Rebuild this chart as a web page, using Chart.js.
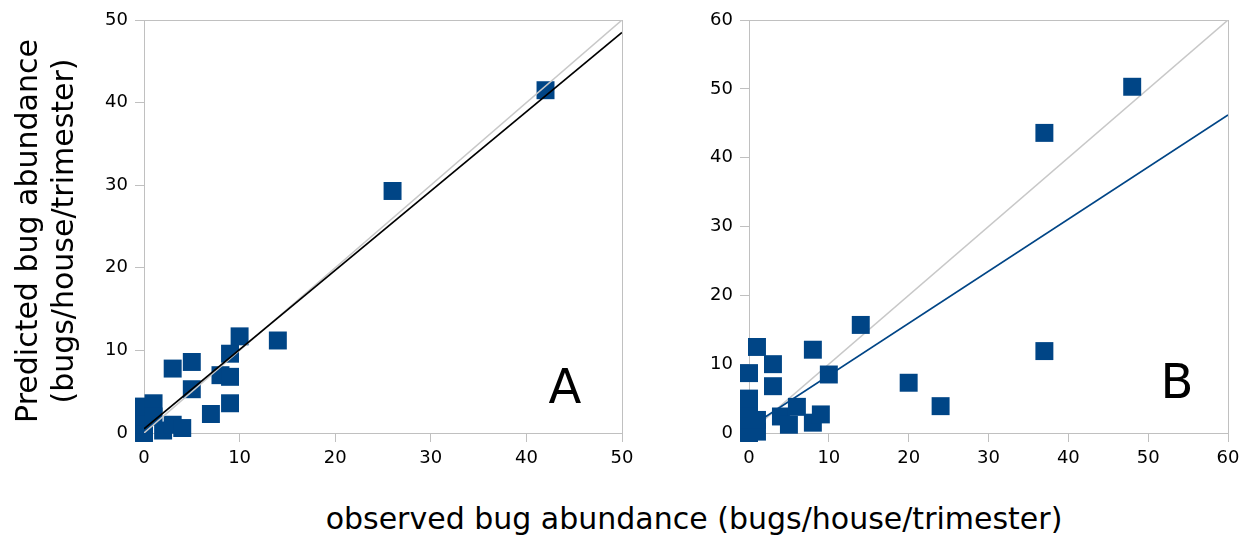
<!DOCTYPE html>
<html>
<head>
<meta charset="utf-8">
<script src="https://cdn.jsdelivr.net/npm/chart.js@4/dist/chart.umd.min.js"></script>
<style>
  html, body { margin: 0; padding: 0; background: #fff; }
  body { width: 1256px; height: 539px; position: relative; overflow: hidden; font-family: "DejaVu Sans", sans-serif; }
  #wrapA { left: 80px; width: 570px; height: 480px; position: absolute; top: 0; }
  #wrapB { left: 690px; width: 566px; height: 480px; position: absolute; top: 0; }
  .panel { position: absolute; font-size: 48px; line-height: 56px; color: #000; transform: translate(-50%, -50%); }
  #ytitle { position: absolute; width: 440px; left: -175px; top: 195px; height: 72px; font-size: 30px; line-height: 36px;
            text-align: center; transform: rotate(-90deg); transform-origin: 50% 50%; color: #000; white-space: nowrap; }
  #xtitle { position: absolute; left: 0; width: 1388px; top: 501px; font-size: 30px; line-height: 36px; text-align: center; color: #000; white-space: nowrap; }
</style>
</head>
<body>
<div id="wrapA"><canvas id="chartA"></canvas></div>
<div id="wrapB"><canvas id="chartB"></canvas></div>
<div id="ytitle">Predicted bug abundance<br>(bugs/house/trimester)</div>
<div id="xtitle">observed bug abundance (bugs/house/trimester)</div>
<div class="panel" style="left:565px; top:386px;">A</div>
<div class="panel" style="left:1177px; top:381px;">B</div>
<script>
// ---- Panel A data ----
const obsA  = [0, 0, 0, 0, 0, 1, 1, 2, 3, 4, 3, 5, 5, 7, 8, 9, 9, 9, 10, 14, 26, 42];
const predA = [0, 0.2, 1.0, 2.0, 3.2, 3.6, 2.0, 0.3, 1.0, 0.6, 7.8, 8.6, 5.3, 2.3, 7.0, 6.8, 9.6, 3.6, 11.7, 11.2, 29.3, 41.5];
const fitA_x = [0, 50];
const fitA_y = [0.5, 48.5];
const idA = [0, 50];
const ticksA = [0, 10, 20, 30, 40, 50];

// ---- Panel B data ----
const obsB  = [0, 0, 0, 0, 0, 0, 1, 1, 1, 3, 3, 4, 5, 6, 8, 8, 9, 10, 14, 20, 24, 37, 37, 48];
const predB = [0, 0.5, 2.0, 3.5, 5.0, 8.7, 0.2, 1.9, 12.5, 10.0, 6.8, 2.4, 1.2, 3.8, 1.5, 12.1, 2.7, 8.5, 15.7, 7.3, 3.9, 11.9, 43.6, 50.3];
const fitB_x = [0, 60];
const fitB_y = [0.8, 46.2];
const idB = [0, 60];
const ticksB = [0, 10, 20, 30, 40, 50, 60];

const MARK = '#004586';
const GRAY = '#c8c8c8';
const AXIS = '#c0c0c0';
const FONT = { family: 'DejaVu Sans', size: 18 };

const pts = (xs, ys) => xs.map((x, i) => ({ x: x, y: ys[i] }));

const frame = {
  id: 'frame',
  beforeDatasetsDraw(chart) {
    const a = chart.chartArea, c = chart.ctx;
    c.save();
    c.strokeStyle = AXIS; c.lineWidth = 1;
    c.strokeRect(Math.round(a.left) + 0.5, Math.round(a.top) + 0.5, Math.round(a.right - a.left), Math.round(a.bottom - a.top));
    c.restore();
  }
};

function makeScales(ticks, yWidth) {
  const max = ticks[ticks.length - 1];
  const common = {
    type: 'linear', min: ticks[0], max: max,
    grid: { display: true, drawOnChartArea: false, drawTicks: true, tickLength: 9, color: AXIS, lineWidth: 1 },
    border: { display: true, color: AXIS, width: 1 },
  };
  return {
    x: Object.assign({}, common, {
      position: 'bottom',
      ticks: { stepSize: 10, font: FONT, color: '#000', padding: 6, maxRotation: 0 },
      afterBuildTicks(s) { s.ticks = ticks.map(v => ({ value: v })); },
      afterFit(s) { s.height = 47; }
    }),
    y: Object.assign({}, common, {
      position: 'left',
      ticks: { stepSize: 10, font: FONT, color: '#000', padding: 7 },
      afterBuildTicks(s) { s.ticks = ticks.map(v => ({ value: v })); },
      afterFit(s) { s.width = yWidth; }
    })
  };
}

function baseOpts(ticks, yWidth) {
  return {
    responsive: true, maintainAspectRatio: false, animation: false,
    events: [],
    layout: { padding: { top: 20, right: 28, left: 0, bottom: 0 } },
    plugins: { legend: { display: false }, tooltip: { enabled: false } },
    scales: makeScales(ticks, yWidth)
  };
}

new Chart(document.getElementById('chartA'), {
  type: 'scatter',
  data: {
    datasets: [
      { data: pts(fitA_x, fitA_y), showLine: true, pointRadius: 0, borderColor: '#000', borderWidth: 1.6 },
      { data: pts(idA, idA), showLine: true, pointRadius: 0, borderColor: GRAY, borderWidth: 1.5 },
      { data: pts(obsA, predA), pointStyle: 'rect', pointRadius: 12.7, backgroundColor: MARK, borderWidth: 0, clip: false }
    ]
  },
  options: baseOpts(ticksA, 64),
  plugins: [frame]
});

new Chart(document.getElementById('chartB'), {
  type: 'scatter',
  data: {
    datasets: [
      { data: pts(obsB, predB), pointStyle: 'rect', pointRadius: 12.7, backgroundColor: MARK, borderWidth: 0, clip: false },
      { data: pts(fitB_x, fitB_y), showLine: true, pointRadius: 0, borderColor: MARK, borderWidth: 1.6 },
      { data: pts(idB, idB), showLine: true, pointRadius: 0, borderColor: GRAY, borderWidth: 1.5 }
    ]
  },
  options: baseOpts(ticksB, 59),
  plugins: [frame]
});
</script>
</body>
</html>
